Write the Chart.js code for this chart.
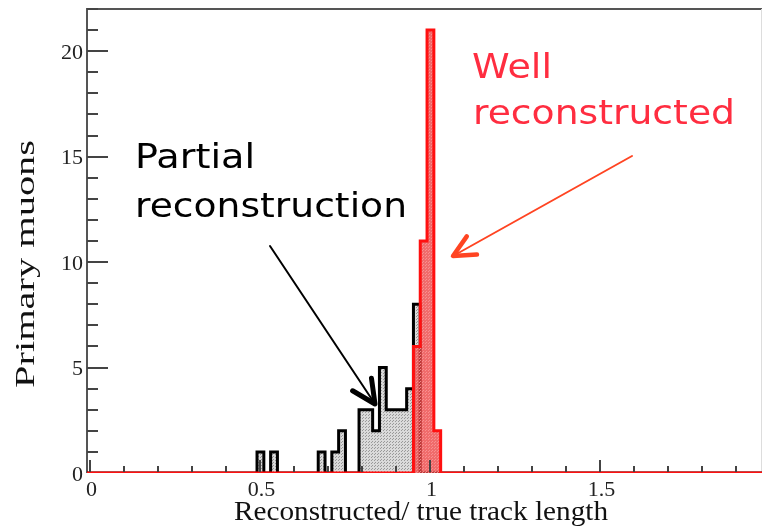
<!DOCTYPE html>
<html>
<head>
<meta charset="utf-8">
<script src="https://cdn.jsdelivr.net/npm/chart.js@4.4.1/dist/chart.umd.min.js"></script>
<style>
  html, body { margin: 0; padding: 0; background: #fff; }
  #wrap { width: 763px; height: 530px; }
</style>
</head>
<body>
<div id="wrap"><canvas id="histo" width="763" height="530"></canvas></div>
<script>
/*---------data-----------------------------*/
const binWidth = 0.02;
const partialBinStart = [0.49, 0.53, 0.67, 0.71, 0.73, 0.79, 0.81, 0.83, 0.85, 0.87, 0.89, 0.91, 0.93, 0.95];
const partialCounts   = [1, 1, 1, 1, 2, 3, 3, 2, 5, 3, 3, 3, 4, 8];
const wellBinStart = [0.95, 0.97, 0.99, 1.01];
const wellCounts   = [6, 11, 21, 2];

const xMajorTicks = [0, 0.5, 1, 1.5];
const xTickLabels = ['0', '0.5', '1', '1.5'];
const yMajorTicks = [0, 5, 10, 15, 20];
const yTickLabels = ['0', '5', '10', '15', '20'];

const xMin = -0.01, xMax = 1.975;
const yMin = 0, yMax = 22;

// step outline of a histogram, going back to 0 only where bins are empty
function outline(starts, counts) {
    const pts = [{x: xMin, y: 0}];
    let end = null;
    starts.forEach((s, i) => {
        if (end === null || Math.abs(s - end) > 1e-6) {
            if (end !== null) pts.push({x: end, y: 0});
            pts.push({x: s, y: 0});
        }
        pts.push({x: s, y: counts[i]});
        end = s + binWidth;
        pts.push({x: end, y: counts[i]});
    });
    pts.push({x: end, y: 0});
    pts.push({x: xMax, y: 0});
    return pts;
}

function dots(bg, fg) {
    const c = document.createElement('canvas');
    c.width = 3; c.height = 3;
    const g = c.getContext('2d');
    g.fillStyle = bg;
    g.fillRect(0, 0, 3, 3);
    g.fillStyle = fg;
    g.fillRect(0, 0, 1, 1);
    g.fillRect(2, 1, 1, 1);
    return g.createPattern(c, 'repeat');
}

function arrow(ctx, x1, y1, x2, y2, color, w, headW, headLen) {
    const a = Math.atan2(y2 - y1, x2 - x1);
    ctx.save();
    ctx.strokeStyle = color;
    ctx.lineCap = 'round';
    ctx.lineJoin = 'round';
    ctx.lineWidth = w;
    ctx.beginPath();
    ctx.moveTo(x1, y1);
    ctx.lineTo(x2, y2);
    ctx.stroke();
    ctx.lineWidth = headW;
    ctx.beginPath();
    ctx.moveTo(x2 - headLen * Math.cos(a - 0.45), y2 - headLen * Math.sin(a - 0.45));
    ctx.lineTo(x2, y2);
    ctx.lineTo(x2 - headLen * Math.cos(a + 0.45), y2 - headLen * Math.sin(a + 0.45));
    ctx.stroke();
    ctx.restore();
}

// text squeezed/stretched to a given width
function fitText(ctx, txt, x, y, width) {
    const w = ctx.measureText(txt).width;
    ctx.save();
    ctx.translate(x, y);
    ctx.scale(width / w, 1);
    ctx.fillText(txt, 0, 0);
    ctx.restore();
}

const frame = {
    id: 'frame',
    beforeDatasetsDraw(chart) {
        const {ctx, chartArea: a} = chart;
        ctx.save();
        ctx.strokeStyle = '#555';
        ctx.lineWidth = 2;
        ctx.beginPath();
        ctx.moveTo(a.left, a.bottom);
        ctx.lineTo(a.left, a.top);
        ctx.lineTo(a.right, a.top);
        ctx.stroke();
        ctx.strokeStyle = '#ddd';
        ctx.lineWidth = 1;
        ctx.beginPath();
        ctx.moveTo(a.right - 0.5, a.top);
        ctx.lineTo(a.right - 0.5, a.bottom);
        ctx.stroke();
        ctx.restore();
    },
    afterDatasetsDraw(chart) {
        const {ctx, chartArea: a} = chart;
        const xs = chart.scales.x, ys = chart.scales.y;
        ctx.save();
        ctx.strokeStyle = '#444';
        ctx.lineWidth = 2;
        ctx.beginPath();
        // y ticks every 1, major every 5
        for (let v = 1; v <= yMax; v++) {
            const py = Math.round(ys.getPixelForValue(v));
            const len = yMajorTicks.includes(v) ? 21 : 11;
            ctx.moveTo(a.left, py);
            ctx.lineTo(a.left + len, py);
        }
        // x ticks every 0.1, major every 0.5
        for (let k = 0; k * 0.1 <= xMax; k++) {
            const v = Math.round(k) / 10;
            const px = Math.round(xs.getPixelForValue(v));
            const len = (k % 5 === 0) ? 13 : 7;
            ctx.moveTo(px, a.bottom - 1);
            ctx.lineTo(px, a.bottom - len);
        }
        ctx.stroke();

        ctx.fillStyle = '#222';
        ctx.font = '22px "Liberation Serif", serif';
        ctx.textAlign = 'right';
        ctx.textBaseline = 'middle';
        yMajorTicks.forEach((v, i) => {
            ctx.fillText(yTickLabels[i], a.left - 4, ys.getPixelForValue(v) + 2);
        });
        ctx.textAlign = 'center';
        ctx.textBaseline = 'top';
        xMajorTicks.forEach((v, i) => {
            ctx.fillText(xTickLabels[i], xs.getPixelForValue(v) + 1, a.bottom + 6);
        });

        // axis titles
        ctx.fillStyle = '#111';
        ctx.font = '28px "Liberation Serif", serif';
        ctx.textBaseline = 'alphabetic';
        ctx.textAlign = 'left';
        fitText(ctx, 'Reconstructed/ true track length', 234, 520, 374);
        ctx.save();
        ctx.translate(34, 388);
        ctx.rotate(-Math.PI / 2);
        fitText(ctx, 'Primary muons', 0, 0, 248);
        ctx.restore();
        ctx.restore();
    },
    afterDraw(chart) {
        const {ctx} = chart;
        ctx.save();
        ctx.textAlign = 'left';
        ctx.textBaseline = 'alphabetic';
        ctx.font = '33px "DejaVu Sans", sans-serif';
        ctx.fillStyle = '#000';
        fitText(ctx, 'Partial', 135, 168, 120);
        fitText(ctx, 'reconstruction', 135, 217, 272);
        ctx.fillStyle = '#ff2d40';
        fitText(ctx, 'Well', 472, 78, 80);
        fitText(ctx, 'reconstructed', 473, 124, 262);

        arrow(ctx, 270, 246, 375, 404, '#000', 2, 5, 26);
        arrow(ctx, 632, 156, 453, 256, '#ff4422', 2, 4.5, 24);
        ctx.restore();
    }
};

const ctx = document.getElementById('histo').getContext('2d');
const histo = new Chart(ctx, {
    type: 'line',
    data: {
        datasets: [{
            label: 'Well reconstructed',
            data: outline(wellBinStart, wellCounts),
            borderColor: '#ff1010',
            borderWidth: 3,
            backgroundColor: dots('rgba(236,70,70,0.8)', 'rgba(250,150,150,0.85)'),
            fill: 'origin',
            pointRadius: 0,
            tension: 0,
            order: 0
        }, {
            label: 'Partial reconstruction',
            data: outline(partialBinStart, partialCounts),
            borderColor: '#000',
            borderWidth: 3,
            backgroundColor: dots('#dadada', '#999'),
            fill: 'origin',
            pointRadius: 0,
            tension: 0,
            order: 1
        }]
    },
    options: {
        responsive: false,
        animation: false,
        devicePixelRatio: 1,
        layout: {padding: {left: 87, top: 9, right: 1, bottom: 57}},
        plugins: {legend: {display: false}, tooltip: {enabled: false}},
        scales: {
            x: {type: 'linear', min: xMin, max: xMax, display: false},
            y: {type: 'linear', min: yMin, max: yMax, display: false}
        }
    },
    plugins: [frame]
});
</script>
</body>
</html>
